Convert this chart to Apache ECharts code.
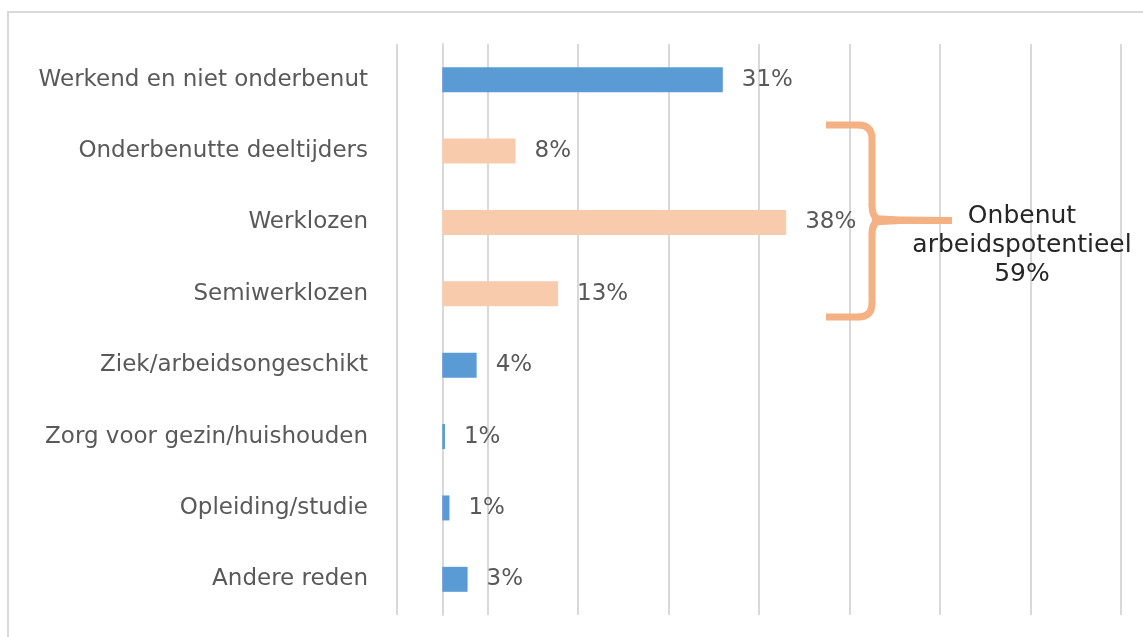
<!DOCTYPE html>
<html>
<head>
<meta charset="utf-8">
<script src="https://cdn.jsdelivr.net/npm/echarts@6/dist/echarts.min.js"></script>
<style>
  html, body { margin: 0; padding: 0; background: #fff; }
  #chart { width: 1143px; height: 637px; }
</style>
</head>
<body>
<div id="chart"></div>
<script>
// categories, top to bottom
const categories = [
  'Werkend en niet onderbenut',
  'Onderbenutte deeltijders',
  'Werklozen',
  'Semiwerklozen',
  'Ziek/arbeidsongeschikt',
  'Zorg voor gezin/huishouden',
  'Opleiding/studie',
  'Andere reden'
];
// bar lengths (%)
const values = [31, 8.1, 38, 12.8, 3.8, 0.3, 0.8, 2.8];
// data labels as printed on the chart
const pctLabels = ['31%', '8%', '38%', '13%', '4%', '1%', '1%', '3%'];
// categories that form the bracketed group
const underused = ['Onderbenutte deeltijders', 'Werklozen', 'Semiwerklozen'];
const groupText = ['Onbenut', 'arbeidspotentieel', '59%'];

const chart = echarts.init(document.getElementById('chart'));

const braceColor = '#f4b183';
const braceStyle = { stroke: braceColor, lineWidth: 7, fill: null };
const line = (x1, y1, x2, y2) => ({ type: 'line', silent: true, z: 60, shape: { x1, y1, x2, y2 }, style: braceStyle });
const curve = (x1, y1, cx, cy, x2, y2) => ({
  type: 'bezierCurve', silent: true, z: 60,
  shape: { x1, y1, cpx1: cx, cpy1: cy, x2, y2 },
  style: braceStyle
});

const option = {
  animation: false,
  backgroundColor: '#ffffff',
  grid: { left: 397, right: 22, top: 44, bottom: 22 },
  xAxis: [
    {
      type: 'value',
      min: -5,
      max: 75,
      axisLine: { show: false },
      axisTick: { show: false },
      axisLabel: { show: false },
      splitLine: { show: false }
    },
    {
      // gridlines only: Excel counts them from -5 in steps of 10
      type: 'value',
      min: 0,
      max: 80,
      interval: 10,
      axisLine: { show: false },
      axisTick: { show: false },
      axisLabel: { show: false },
      splitLine: { show: true, lineStyle: { color: '#d9d9d9', width: 2 } }
    }
  ],
  yAxis: {
    type: 'category',
    data: categories,
    inverse: true,
    axisLine: {
      show: true,
      onZero: true,
      onZeroAxisIndex: 0,
      lineStyle: { color: '#d9d9d9', width: 2 }
    },
    axisTick: { show: false },
    axisLabel: {
      margin: 29,
      color: '#595959',
      fontSize: 23,
      fontFamily: 'DejaVu Sans'
    }
  },
  series: [
    {
      type: 'bar',
      xAxisIndex: 0,
      data: values,
      barWidth: 25,
      itemStyle: {
        color: (p) => underused.includes(categories[p.dataIndex]) ? '#f8cbad' : '#5b9bd5'
      },
      label: {
        show: true,
        position: 'right',
        distance: 19,
        color: '#595959',
        fontSize: 23,
        fontFamily: 'DejaVu Sans',
        formatter: (p) => pctLabels[p.dataIndex]
      }
    }
  ],
  graphic: [
    {
      type: 'rect',
      silent: true,
      shape: { x: 8, y: 12, width: 1200, height: 700 },
      style: { fill: null, stroke: '#d9d9d9', lineWidth: 2 }
    },
    // curly bracket
    line(826, 125, 859, 125),
    curve(858, 125, 872, 125, 872, 139),
    line(872, 138, 872, 205),
    curve(872, 204, 872, 220, 882, 220),
    curve(882, 220, 872, 220, 872, 235),
    line(872, 234, 872, 304),
    curve(872, 303, 872, 317, 858, 317),
    line(859, 317, 826, 317),
    {
      type: 'polygon',
      silent: true,
      z: 60,
      shape: { points: [[872, 215], [900, 216.5], [952, 217], [952, 224], [900, 224], [872, 225.5]] },
      style: { fill: braceColor }
    },
    {
      type: 'text',
      silent: true,
      z: 50,
      x: 1022,
      y: 245,
      style: {
        text: groupText.join('\n'),
        fill: '#262626',
        fontSize: 25,
        fontFamily: 'DejaVu Sans',
        lineHeight: 29,
        align: 'center',
        verticalAlign: 'middle'
      }
    }
  ]
};

chart.setOption(option);
</script>
</body>
</html>
